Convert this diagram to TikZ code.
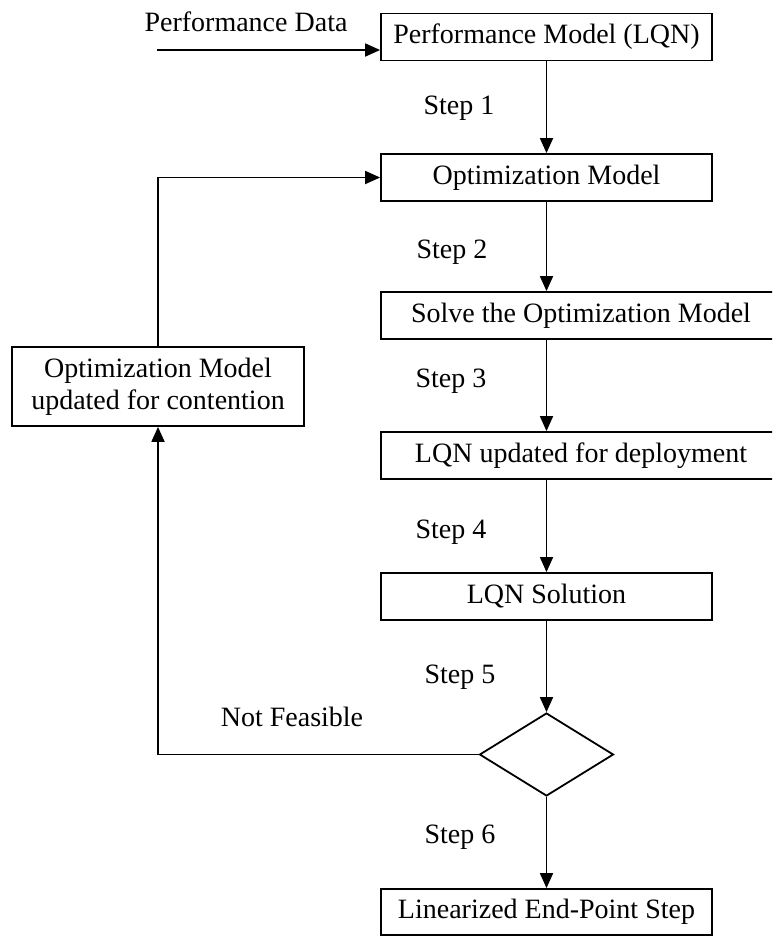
\documentclass[tikz,border=0pt]{standalone}
\usepackage{fontspec}
\setmainfont{Liberation Serif}
\usetikzlibrary{arrows.meta,shapes.geometric}

\tikzset{
  stepbox/.style={draw, line width=1.8pt, inner sep=0pt, minimum height=47pt},
  narrowbox/.style={stepbox, minimum width=331pt},
  widebox/.style={stepbox, minimum width=400pt},
  decision/.style={draw, diamond, line width=1.8pt, inner sep=0pt,
                   minimum width=134pt, minimum height=83pt},
  lbl/.style={inner sep=0pt},
  flow/.style={line width=1.8pt, -{Triangle[width=13pt,length=15pt]}}
}

\begin{document}
\begin{tikzpicture}[x=1pt, y=-1pt, font=\fontsize{28}{32}\selectfont]
  \clip (0,0) rectangle (772,937);

  % main column of process boxes
  \node[narrowbox] (perf)  at (546.5,37)    {Performance Model (LQN)};
  \node[narrowbox] (opt)   at (546.5,177.5) {Optimization Model};
  \node[widebox]   (solve) at (581,315.5)   {Solve the Optimization Model};
  \node[widebox]   (upd)   at (581,455.5)   {LQN updated for deployment};
  \node[narrowbox] (sol)   at (546.5,596.5) {LQN Solution};
  \node[decision]  (dec)   at (546.5,754.5) {};
  \node[narrowbox, minimum height=46pt] (lin) at (546.5,912) {Linearized End-Point Step};

  % feedback box on the left
  \node[draw, line width=1.8pt, minimum width=292pt, minimum height=79pt,
        inner sep=0pt, align=center] (cont) at (158,386.5)
        {Optimization Model\\updated for contention};

  % labels
  \node[lbl] (pdata) at (246,22)  {Performance Data};
  \node[lbl] (s1) at (459,108) {Step 1};
  \node[lbl] (s2) at (452,252) {Step 2};
  \node[lbl] (s3) at (451,381) {Step 3};
  \node[lbl] (s4) at (451,532) {Step 4};
  \node[lbl] (s5) at (460,677) {Step 5};
  \node[lbl] (s6) at (460,837) {Step 6};
  \node[lbl] (nf) at (292,717) {Not Feasible};

  % input arrow
  \coordinate (in) at (157,50);
  \draw[flow] (in) -- (in -| perf.west);

  % main flow
  \draw[flow] (perf.south) -- (opt.north);
  \draw[flow] (opt.south) -- (opt.south |- solve.north);
  \draw[flow] (opt.south |- solve.south) -- (opt.south |- upd.north);
  \draw[flow] (opt.south |- upd.south) -- (sol.north);
  \draw[flow] (sol.south) -- (dec.north);
  \draw[flow] (dec.south) -- (lin.north);

  % loop back when not feasible
  \draw[flow] (dec.west) -| (cont.south);
  \draw[flow] (cont.north) |- (opt.west);
\end{tikzpicture}
\end{document}
